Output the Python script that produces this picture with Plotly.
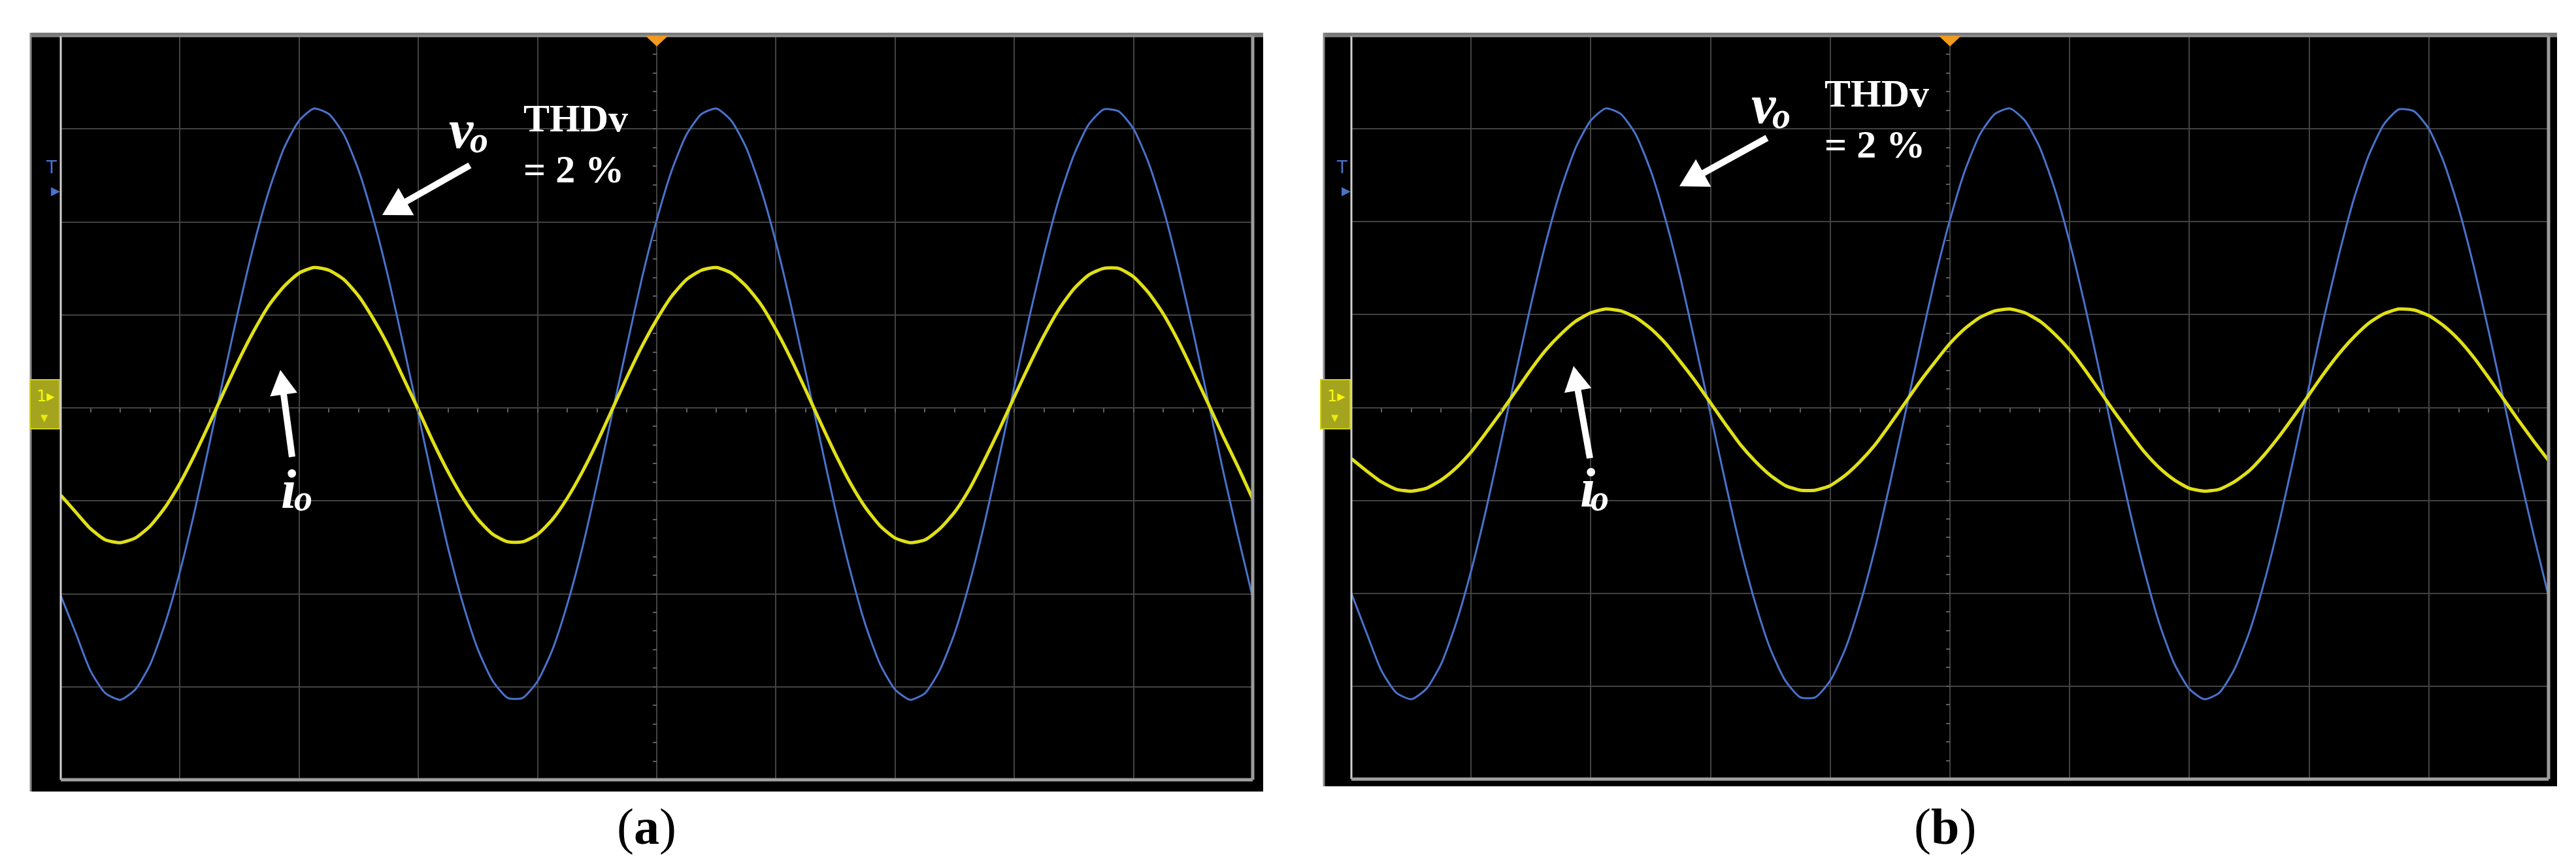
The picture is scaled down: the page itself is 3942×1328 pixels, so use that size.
import math
import plotly.graph_objects as go

# two oscilloscope screens, traces in screen divisions
# (10 horizontal x 8 vertical divisions, centre line = 0)
t_div = [0.0, 0.125, 0.25, 0.375, 0.5, 0.625, 0.75, 0.875, 1.0, 1.125,
         1.25, 1.375, 1.5, 1.625, 1.75, 1.875, 2.0, 2.125, 2.25, 2.375,
         2.5, 2.625, 2.75, 2.875, 3.0, 3.125, 3.25, 3.375, 3.5, 3.625,
         3.75, 3.875, 4.0, 4.125, 4.25, 4.375, 4.5, 4.625, 4.75, 4.875,
         5.0, 5.125, 5.25, 5.375, 5.5, 5.625, 5.75, 5.875, 6.0, 6.125,
         6.25, 6.375, 6.5, 6.625, 6.75, 6.875, 7.0, 7.125, 7.25, 7.375,
         7.5, 7.625, 7.75, 7.875, 8.0, 8.125, 8.25, 8.375, 8.5, 8.625,
         8.75, 8.875, 9.0, 9.125, 9.25, 9.375, 9.5, 9.625, 9.75, 9.875, 10.0]

# (a) output voltage vo (blue, CH2) and output current io (yellow, CH1)
vo_a = [-2.02, -2.42, -2.83, -3.07, -3.14, -3.03, -2.76, -2.32, -1.76, -1.10,
        -0.37, 0.38, 1.11, 1.78, 2.35, 2.80, 3.09, 3.22, 3.16, 2.94,
        2.55, 2.02, 1.39, 0.67, -0.07, -0.81, -1.51, -2.11, -2.60, -2.94,
        -3.12, -3.12, -2.94, -2.60, -2.11, -1.51, -0.81, -0.07, 0.67, 1.39,
        2.02, 2.55, 2.94, 3.16, 3.22, 3.09, 2.80, 2.35, 1.78, 1.11,
        0.38, -0.37, -1.10, -1.76, -2.33, -2.76, -3.03, -3.14, -3.07, -2.82,
        -2.42, -1.88, -1.24, -0.52, 0.23, 0.97, 1.65, 2.25, 2.72, 3.05,
        3.21, 3.19, 3.00, 2.64, 2.14, 1.52, 0.82, 0.08, -0.67, -1.37, -2.04]
io_a = [-0.94, -1.12, -1.30, -1.42, -1.45, -1.40, -1.27, -1.07, -0.81, -0.50,
        -0.16, 0.19, 0.53, 0.84, 1.11, 1.31, 1.45, 1.51, 1.48, 1.38,
        1.20, 0.95, 0.66, 0.32, -0.02, -0.37, -0.69, -0.97, -1.20, -1.36,
        -1.44, -1.44, -1.36, -1.20, -0.97, -0.69, -0.37, -0.02, 0.33, 0.66,
        0.95, 1.20, 1.38, 1.48, 1.51, 1.45, 1.31, 1.11, 0.84, 0.53,
        0.19, -0.16, -0.50, -0.81, -1.07, -1.27, -1.40, -1.45, -1.42, -1.30,
        -1.12, -0.87, -0.56, -0.23, 0.12, 0.46, 0.78, 1.06, 1.28, 1.43,
        1.50, 1.50, 1.41, 1.24, 1.01, 0.72, 0.39, 0.05, -0.30, -0.63, -0.98]

# (b) same voltage, lighter load current
vo_b = [-2.00, -2.42, -2.83, -3.07, -3.14, -3.03, -2.76, -2.32, -1.76, -1.10,
        -0.37, 0.38, 1.11, 1.78, 2.35, 2.80, 3.09, 3.22, 3.16, 2.94,
        2.55, 2.02, 1.39, 0.67, -0.07, -0.81, -1.51, -2.11, -2.60, -2.94,
        -3.12, -3.12, -2.94, -2.60, -2.11, -1.51, -0.81, -0.07, 0.67, 1.39,
        2.02, 2.55, 2.94, 3.16, 3.22, 3.09, 2.80, 2.35, 1.78, 1.11,
        0.38, -0.37, -1.10, -1.76, -2.33, -2.76, -3.03, -3.14, -3.07, -2.82,
        -2.42, -1.88, -1.24, -0.52, 0.23, 0.97, 1.65, 2.25, 2.72, 3.05,
        3.21, 3.19, 3.00, 2.64, 2.14, 1.52, 0.82, 0.08, -0.67, -1.37, -2.03]
io_b = [-0.55, -0.68, -0.80, -0.88, -0.90, -0.87, -0.78, -0.65, -0.48, -0.27,
        -0.05, 0.18, 0.41, 0.62, 0.79, 0.93, 1.02, 1.06, 1.04, 0.97,
        0.85, 0.69, 0.49, 0.28, 0.05, -0.18, -0.40, -0.58, -0.73, -0.84,
        -0.89, -0.89, -0.84, -0.73, -0.58, -0.40, -0.18, 0.05, 0.28, 0.49,
        0.69, 0.85, 0.97, 1.04, 1.06, 1.02, 0.93, 0.79, 0.62, 0.41,
        0.18, -0.05, -0.27, -0.48, -0.65, -0.78, -0.87, -0.90, -0.88, -0.80,
        -0.68, -0.51, -0.31, -0.09, 0.14, 0.37, 0.58, 0.76, 0.91, 1.01,
        1.06, 1.05, 0.99, 0.88, 0.73, 0.54, 0.32, 0.09, -0.14, -0.36, -0.57]

panel_labels = ["a", "b"]
thd_lines = ["THDv", "= 2 %"]

BLUE = "#4a72cc"
YELLOW = "#e0e016"
GRID = "#424242"
TICK = "#5e5e5e"
SERIF = "Liberation Serif"

W, H = 3942, 1328


def px(x):
    return x / W


def py(y):
    return 1 - y / H


# pixel layout of each screen: grid box, black bezel, label/arrow spots
screens = [
    dict(grid=(85, 47, 1909, 1185), bezel=(38, 42, 1925, 1203),
         v=(698, 189), v_sub=(725, 206), thd=(791, 212),
         vo_arrow=((711, 245), (577, 321)),
         i=(433, 740), i_sub=(456, 754), io_arrow=((439, 691), (421, 558)),
         caption=(981, 1256)),
    dict(grid=(2060, 47, 3892, 1184), bezel=(2017, 42, 3905, 1195),
         v=(2691, 152), v_sub=(2718, 169), thd=(2782, 174),
         vo_arrow=((2696, 203), (2562, 277)),
         i=(2421, 738), i_sub=(2440, 754), io_arrow=((2425, 693), (2400, 552)),
         caption=(2968, 1256)),
]
series = [(vo_a, io_a), (vo_b, io_b)]

fig = go.Figure()
shapes = []
annotations = []


def label(x, y, text, size, color="white", family=SERIF):
    annotations.append(dict(x=px(x), y=py(y), xref="paper", yref="paper", text=text,
                            showarrow=False, xanchor="center", yanchor="middle",
                            font=dict(family=family, size=size, color=color)))


def arrow(tail, tip, head_len, head_half, shaft=10):
    (sx, sy), (tx, ty) = tail, tip
    d = math.hypot(tx - sx, ty - sy)
    ux, uy = (tx - sx) / d, (ty - sy) / d
    bx, by = tx - ux * head_len, ty - uy * head_len
    nx, ny = -uy, ux
    shapes.append(dict(type="line", xref="paper", yref="paper", layer="above",
                       x0=px(sx), y0=py(sy), x1=px(bx + ux * 4), y1=py(by + uy * 4),
                       line=dict(color="white", width=shaft)))
    pts = [(tx, ty), (bx + nx * head_half, by + ny * head_half),
           (bx - nx * head_half, by - ny * head_half)]
    path = "M " + " L ".join(f"{px(a)},{py(b)}" for a, b in pts) + " Z"
    shapes.append(dict(type="path", xref="paper", yref="paper", layer="above",
                       path=path, fillcolor="white", line=dict(width=0)))


for k, (scr, (vo, io), lab) in enumerate(zip(screens, series, panel_labels), start=1):
    sfx = "" if k == 1 else str(k)
    gx0, gy0, gx1, gy1 = scr["grid"]
    bx0, by0, bx1, by1 = scr["bezel"]
    xd, yd = f"x{sfx} domain", f"y{sfx} domain"

    fig.add_trace(go.Scatter(x=t_div, y=vo, mode="lines", xaxis=f"x{sfx}", yaxis=f"y{sfx}",
                             line=dict(color=BLUE, width=3, shape="spline", smoothing=0.6),
                             hoverinfo="skip"))
    fig.add_trace(go.Scatter(x=t_div, y=io, mode="lines", xaxis=f"x{sfx}", yaxis=f"y{sfx}",
                             line=dict(color=YELLOW, width=5, shape="spline", smoothing=0.6),
                             hoverinfo="skip"))

    xmid = (px(gx0) + px(gx1)) / 2
    ymid = (py(gy0) + py(gy1)) / 2
    fig.layout[f"xaxis{sfx}"] = dict(
        domain=[px(gx0), px(gx1)], range=[0, 10], anchor="free", position=ymid,
        dtick=1, tick0=0, showgrid=True, gridcolor=GRID, gridwidth=2,
        ticks="outside", ticklen=6, tickwidth=2, tickcolor=TICK,
        minor=dict(dtick=0.25, tick0=0, ticks="outside", ticklen=6, tickwidth=2,
                   tickcolor=TICK, showgrid=False),
        showticklabels=False, zeroline=False, showline=False, fixedrange=True)
    fig.layout[f"yaxis{sfx}"] = dict(
        domain=[py(gy1), py(gy0)], range=[-4, 4], anchor="free", position=xmid,
        dtick=1, tick0=0, showgrid=True, gridcolor=GRID, gridwidth=2,
        ticks="outside", ticklen=6, tickwidth=2, tickcolor=TICK,
        minor=dict(dtick=0.2, tick0=0, ticks="outside", ticklen=6, tickwidth=2,
                   tickcolor=TICK, showgrid=False),
        showticklabels=False, zeroline=False, showline=False, fixedrange=True)

    # black bezel and the scope's frame lines
    shapes.append(dict(type="rect", xref="paper", yref="paper", layer="below",
                       x0=px(bx0), x1=px(bx1), y0=py(by1), y1=py(by0),
                       fillcolor="black", line=dict(width=0)))
    shapes.append(dict(type="rect", xref="paper", yref="paper", layer="above",
                       x0=px(bx0), x1=px(bx1), y0=py(gy0 + 2), y1=py(by0),
                       fillcolor="#7a7a7a", line=dict(width=0)))
    shapes.append(dict(type="line", xref="paper", yref="paper", layer="above",
                       x0=px(bx0 + 1), x1=px(bx0 + 1), y0=py(by1), y1=py(by0),
                       line=dict(color="#8a8a8a", width=3)))
    for x0, y0, x1, y1, col, wd in [(0, 0, 0, 1, "#d2d2d2", 3), (0, 0, 1, 0, "#a0a0a0", 5),
                                    (1, 0, 1, 1, "#9c9c9c", 5), (0, 1, 1, 1, "#8c8c8c", 3)]:
        shapes.append(dict(type="line", xref=xd, yref=yd, layer="above",
                           x0=x0, x1=x1, y0=y0, y1=y1, line=dict(color=col, width=wd)))

    # trigger-position marker at top centre
    cx = (gx0 + gx1) / 2
    shapes.append(dict(type="path", xref="paper", yref="paper", layer="above",
                       path=f"M {px(cx - 17)},{py(47)} L {px(cx + 17)},{py(47)} L {px(cx)},{py(63)} Z",
                       fillcolor="#f39a1e", line=dict(width=0)))

    # channel-1 ground badge and trigger level marker on the left bezel
    shapes.append(dict(type="rect", xref="paper", yref="paper", layer="above",
                       x0=px(gx0 - 47), x1=px(gx0 - 2), y0=py(648), y1=py(573),
                       fillcolor="#a4a41e", line=dict(color="#d0d012", width=2)))
    label(gx0 - 24, 598, "1▸", 24, "#f6f60e", "DejaVu Sans")
    label(gx0 - 26, 630, "▾", 22, "#eaea14", "DejaVu Sans")
    label(gx0 - 15, 248, "T", 26, BLUE, "DejaVu Sans")
    label(gx0 - 8, 283, "▶", 18, BLUE, "DejaVu Sans")

    # vo / io labels, THD note and the white arrows
    label(*scr["v"], "<b><i>v</i></b>", 84)
    label(*scr["v_sub"], "<b><i>o</i></b>", 56)
    label(*scr["i"], "<b><i>i</i></b>", 84)
    label(*scr["i_sub"], "<b><i>o</i></b>", 56)
    tx, ty = scr["thd"]
    annotations.append(dict(x=px(tx), y=py(ty), xref="paper", yref="paper", showarrow=False,
                            xanchor="left", yanchor="middle", align="left",
                            text="<br>".join(f"<b>{s}</b>" for s in thd_lines),
                            font=dict(family=SERIF, size=60, color="white")))
    arrow(*scr["vo_arrow"], head_len=42, head_half=24)
    arrow(*scr["io_arrow"], head_len=38, head_half=21)

    label(*scr["caption"], f"(<b>{lab}</b>)", 78, "black")

fig.update_layout(
    width=W, height=H, margin=dict(l=0, r=0, t=0, b=0),
    paper_bgcolor="white", plot_bgcolor="black", showlegend=False,
    shapes=shapes, annotations=annotations,
)

fig.write_html("out.html")
